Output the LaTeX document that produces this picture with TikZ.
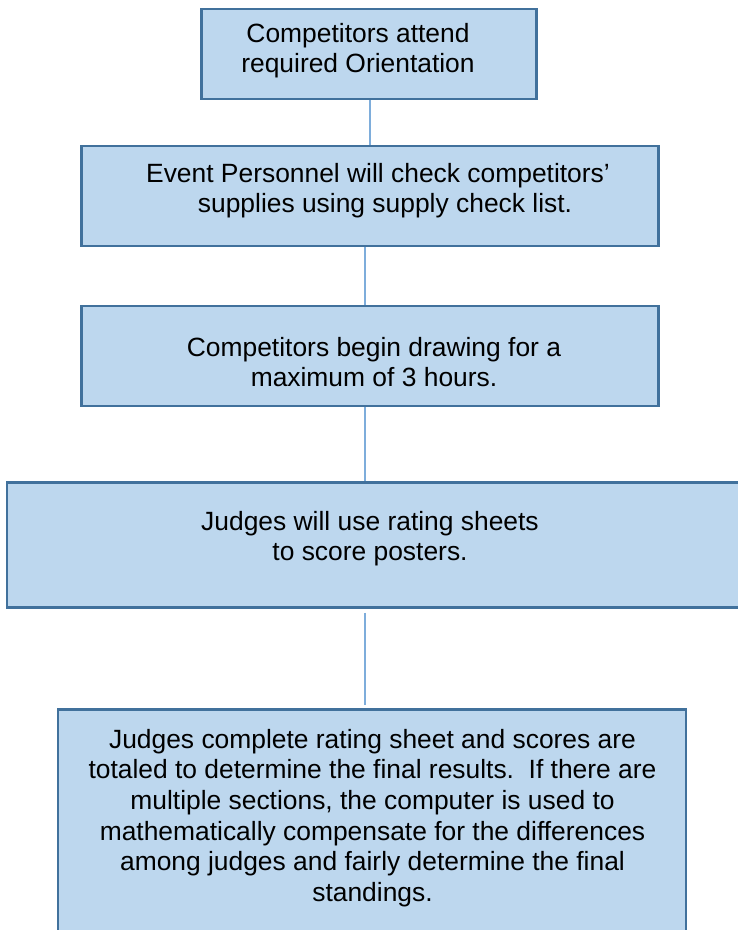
\documentclass[tikz,border=0pt]{standalone}
\usepackage{fontspec}
\setmainfont{Liberation Sans}
\definecolor{boxfill}{HTML}{BDD7EE}
\definecolor{boxline}{HTML}{41719C}
\definecolor{conn}{HTML}{7EADDB}
\tikzset{
  stepbox/.style={draw=boxline, fill=boxfill, line width=2.6pt, rectangle, inner sep=0pt},
  steptext/.style={anchor=north, align=center, inner sep=0pt, font=\fontsize{26.4}{30.6}\selectfont, text=black},
  link/.style={draw=conn, line width=1.4pt}
}
\begin{document}
\begin{tikzpicture}[x=1pt,y=-1pt]
\clip (0,0) rectangle (738,930);
\fill[white] (0,0) rectangle (738,930);
\node[stepbox, minimum width=335pt, minimum height=90pt] (b1) at (369,54) {};
\node[stepbox, minimum width=577pt, minimum height=100pt] (b2) at (370,196) {};
\node[stepbox, minimum width=577pt, minimum height=100pt] (b3) at (370,356) {};
\node[stepbox, minimum width=740pt, minimum height=125pt] (b4) at (377,545) {};
\node[stepbox, minimum width=628pt, minimum height=235pt] (b5) at (372,827) {};
\coordinate (axisA) at (370,0);
\coordinate (axisB) at (365,0);
\node[steptext] (t1) at (358,23) {Competitors attend\\required Orientation};
\node[steptext] (t2) at (378,163) {Event Personnel will check competitors’\\\hspace*{14pt}supplies using supply check list.};
\node[steptext] (t3) at (374,337) {Competitors begin drawing for a\\maximum of 3 hours.};
\node[steptext] (t4) at (370,511) {Judges will use rating sheets\\to score posters.};
\node[steptext] (t5) at (372.5,729) {Judges complete rating sheet and scores are\\totaled to determine the final results.\ \ If there are\\multiple sections, the computer is used to\\mathematically compensate for the differences\\among judges and fairly determine the final\\standings.};
\draw[link] (b1.south -| axisA) -- (b2.north -| axisA);
\draw[link] (b2.south -| axisB) -- (b3.north -| axisB);
\draw[link] (b3.south -| axisB) -- (b4.north -| axisB);
\draw[link, shorten <=4pt, shorten >=3pt] (b4.south -| axisB) -- (b5.north -| axisB);
\end{tikzpicture}
\end{document}
